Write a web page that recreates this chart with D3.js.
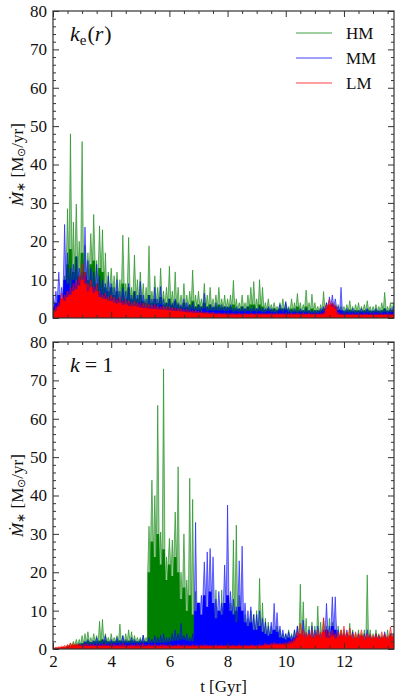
<!DOCTYPE html>
<html>
<head>
<meta charset="utf-8">
<script src="https://cdn.jsdelivr.net/npm/d3@7"></script>
<style>
  body { margin: 0; background: #fff; }
</style>
</head>
<body>
<div id="chart"></div>
<script>
(function(){

    var width = 399, height = 698;
    var left = 53, right = 394;
    var serif = "'Liberation Serif', 'Times New Roman', Times, serif";

    // time grid: one bin every 0.1 Gyr starting at 2.0
    var tStart = 2.0, tStep = 0.1;

    var seriesNames = ["HM", "MM", "LM"];
    var seriesColors = ["#008000", "#0000ff", "#ff0000"];
    var xTicks = [2, 4, 6, 8, 10, 12];
    var yTicks = [0, 10, 20, 30, 40, 50, 60, 70, 80];

    // ---- top panel, k_e(r): peak (hi) and dense level (lo) per bin
    var hmTopHi = [0,0,0,5,11,28.5,48,25,29.7,20,
        46,19,17,22,27,15,24,23,17,12,
        13,11,12,10,21.6,9,21,8,16.4,10,
        12,9,8,18.8,7,11,8,13,7,8,
        13.5,7,12,8,6,9,6,7,12.5,6,
        7,5,9,6,8,5,6,8,5,6,
        5,6,9.8,5,4,6,4,6,8,9.5,
        5,10,8,4,5,3.5,4,3,4,5,
        4,3,5,4,6.4,4,3.5,7.3,4,6.2,
        4,3,3.5,6.9,4,3,4,3,3.5,3,
        3,3.5,4.5,3,3.5,4,3,3.5,4.5,3,
        3,3.5,3,4,6.7,3,4,4];
    var hmTopLo = [0,0,0,3,6,14,18,12,16,11,
        17,12,10,14,15,9,13,12,8,7,
        8,6,7,5,9,5,8,5,7,5,
        6,4.5,4,6,4,5,4,5.5,3.5,4,
        5,3.5,4.5,3.5,3,4,3,3.5,4.5,3,
        3.5,3,4,3,3.5,2.8,3,3.5,2.8,3,
        2.8,3,3.5,2.5,2.5,3,2.5,3,3.5,3.5,
        2.5,3.5,3,2.2,2.5,2.2,2.5,2.2,2.5,2.5,
        2.5,2,2.5,2,3,2,2,3,2,2.5,
        2,2,2,2.5,2,1.8,2,1.8,2,1.8,
        1.8,2,2.2,1.8,2,2,1.8,2,2.2,1.8,
        1.8,2,1.8,2,2.5,1.8,2,2];
    var mmTopHi = [6,7,12,8,24.4,17,13,14,16,13,
        12,23.7,15,13,12,14,11,10,9,11,
        9,8,10,7,8,7,9,6,7,6,
        9.5,6,5,6,5,8,5,8.2,5,4,
        5,4,5,4,3.5,5,4,3.5,4,3,
        3.5,3,6.4,3,3.5,3,4,3,3.5,3,
        3,3.5,2.5,3,2.5,3,2.5,3,2.5,3,
        2.5,3,2.5,2.5,3,2.5,2.5,2,3.5,2.5,
        4.3,2.5,2,2.5,2,2.5,2,2.5,2,2,
        2,2,2.5,3,4,5.5,6,5,3,8,
        2,2.5,2,2.5,2,2,2.5,2,2.5,2,
        2,2.5,2,2,2.5,2,2.5,3];
    var mmTopLo = [3,4,6,5,10,9,8,10,9,10,
        8,11,8,7,8,6,6.5,5,6,4.5,
        5,4,5,3.5,4.5,3.5,4,3,3.5,3,
        4,3,2.8,3,2.8,3.5,2.5,3.5,2.5,2.2,
        2.5,2.2,2.5,2,2,2.5,2,2,2.2,1.8,
        2,1.8,2.5,1.8,2,1.8,2,1.8,2,1.8,
        1.8,2,1.5,1.8,1.5,1.8,1.5,1.8,1.5,1.8,
        1.5,1.8,1.5,1.5,1.8,1.5,1.5,1.3,2,1.5,
        2,1.5,1.3,1.5,1.3,1.5,1.3,1.5,1.3,1.3,
        1.3,1.3,1.5,1.8,2.5,3.2,3.5,3,2,2,
        1.3,1.5,1.3,1.5,1.3,1.3,1.5,1.3,1.5,1.3,
        1.3,1.5,1.3,1.3,1.5,1.3,1.5,1.6];
    var lmTopHi = [2.2,3,4,6.5,6,7,8,9,10,11,
        14.2,12,9,10,8.2,9,7,6,6.5,5.6,
        6,5.5,5,5.5,4.5,5,4.5,4,4.5,4,
        4,3.8,4,3.5,3.5,3.5,3.2,3,3.2,3,
        3,2.8,2.6,2.6,2.5,2.4,2.2,2.2,2,2,
        1.8,1.8,1.6,1.6,1.5,1.5,1.4,1.4,1.3,1.3,
        1.3,1.2,1.3,1.2,1.3,1.2,1.3,1.2,1.3,1.2,
        1.3,1.2,1.3,1.2,1.3,1.2,1.3,1.2,1.3,1.2,
        1.3,1.2,1.3,1.2,1.3,1.2,1.3,1.2,1.3,1.2,
        1.2,1.2,1.2,1.5,3.5,4.9,4,3.5,1.5,1.2,
        1.1,1.2,1.1,1.2,1.1,1.2,1.1,1.2,1.1,1.2,
        1.1,1.2,1.1,1.2,1.1,1.2,1.1,1.2];
    var lmTopLo = [1.5,2,3,5,4.5,5.5,6,7,7.5,8.5,
        10,9,7,8,6.5,7,5.5,5,5,4.5,
        4.5,4,3.8,4,3.4,3.6,3.2,3,3.2,2.9,
        2.8,2.6,2.6,2.5,2.4,2.4,2.3,2.2,2.2,2,
        2,1.9,1.8,1.8,1.7,1.6,1.5,1.5,1.4,1.4,
        1.3,1.3,1.2,1.2,1.1,1.1,1,1,1,1,
        0.9,0.9,0.9,0.9,0.9,0.9,0.9,0.9,0.9,0.9,
        0.9,0.9,0.9,0.9,0.9,0.9,0.9,0.9,0.9,0.9,
        0.9,0.9,0.9,0.9,0.9,0.9,0.9,0.9,0.9,0.9,
        0.9,0.9,0.9,1,2.5,3.5,3,2.5,1,0.8,
        0.8,0.8,0.8,0.8,0.8,0.8,0.8,0.8,0.8,0.8,
        0.8,0.8,0.8,0.8,0.8,0.8,0.8,0.8];

    // ---- bottom panel, k = 1
    var hmBotHi = [0,0,0,0,0.5,1,1.5,2,2.5,2.5,
        3.5,4,4.5,3,4,3.5,7.2,7.7,4,3,
        4,3,3.5,6.5,3.5,4,5,4.5,3.5,3,
        3,3.6,3,32,44,40,63.5,30.5,73,24,
        28.8,28.4,35.7,47.5,20,30,18,44.5,39,15,
        6,5,8,7,9,8,15.4,10,15.4,9,
        10,12,28.4,32.3,14,10,9,8,10,9,
        10,18.4,12,8,7,6,5,6,5,4,
        4,5,4,5,6,16.9,12.3,8,6,7,
        6,11.2,7,8,6,8,7,5,6,5,
        5,4,6.7,5,4,5,4,5,19.3,5,
        4,5,4,3.5,4,5,4,4];
    var hmBotLo = [0,0,0,0,0.2,0.5,0.8,1,1.2,1.3,
        1.5,1.8,2,1.8,2,2,2.2,2.5,2.2,2,
        2,2,2.2,2.2,2,2,2.2,2.2,2,2,
        2,2,2,20,28,24,30,22,26,18,
        22,19,24,20,13,16,10,14,9,4,
        3.5,3.5,4,3.5,4,3.5,5,4,5,4,
        4,5,9,10,6,4,4,4,4.5,4,
        4.5,6,4.5,3.5,3,3,3,3,3,2.8,
        2.5,2.5,2.5,2.5,2.5,3.5,3,2.5,2.5,2.5,
        2.5,3,2.5,2.5,2.5,2.5,2.5,2.5,2.5,2.5,
        2.5,2.5,2.5,2.5,2.5,2.5,2.5,2.5,3,2.5,
        2.5,2.5,2.5,2.5,2.5,2.5,2.5,2.5];
    var mmBotHi = [0,0,0,0,0,0,0,0.5,1,1.5,
        1.5,2,2.5,1.8,2.2,3,2,2.5,3.5,2,
        2.5,2,3,2.2,3.5,2.5,2,3,2.5,2,
        2.5,3.6,2,3,2.5,3.5,3,3.6,4,3,
        3,4,5,4,6.7,3.5,4,3,4,33,
        12,14,22.7,25.3,26.2,24,13,15,12,21.9,
        37.5,15,13,11,23,26.8,12,10,11,9,
        9,10,8,7,6,7,11.9,9.5,6,5,
        4,4.5,3.5,5,6,4,7.5,4,5,6,
        5,6,4,5,11.9,6,13.6,13.6,5,4,
        4,5,3.5,4.5,3,4,3.5,4,5,3.5,
        3,4,3.5,3,4.5,3,4,3.5];
    var mmBotLo = [0,0,0,0,0,0,0,0.2,0.5,0.8,
        1,1.2,1.2,1.2,1.3,1.3,1.3,1.4,1.4,1.4,
        1.4,1.5,1.5,1.5,1.5,1.5,1.5,1.5,1.5,1.5,
        1.5,1.6,1.6,1.6,1.6,1.6,1.6,1.6,1.6,1.6,
        1.8,2,2.2,2.2,2.5,2.5,2.2,2,2,10,
        12,9,14,11,15,12,8,10,9,12,
        14,10,9,7,11,10,7,6,7,5,
        5,6,4.5,4,3.5,4,5,4.5,3,2.8,
        2.5,3,2.5,3,3.5,2.5,3.5,2.5,3,3,
        3,3.5,2.5,3,5,3.5,6,5,3,2.5,
        2.2,2.5,2.2,2.5,2.2,2.2,2.5,2.2,2.5,2.2,
        2.2,2.5,2.2,2.2,2.5,2.2,2.5,2.2];
    var lmBotHi = [0.3,0.5,0.6,0.8,1,1.2,1.6,1.5,1.4,1.3,
        1.2,1.3,1.4,1.2,1.3,1.2,1.2,1.3,1.4,1.2,
        1.2,1.4,1.1,1.3,1.5,1.2,1.1,1.3,1.2,1.4,
        1.2,1.5,1.1,1.3,1.2,1.4,1.1,1.2,1.3,1.1,
        1.2,1,1.1,1.3,1,1.2,1.1,1,1.2,1.1,
        1,1.1,1.2,1,1.1,1,1.2,1,1.1,1,
        1.2,1,1.1,1,1.2,1,1.1,1,1.2,1.1,
        1,1.2,1.1,1.6,1.3,1.5,1.8,1.4,1.6,1.5,
        1.8,2,2.2,3,4.5,6.7,5,4.5,4,5,
        4,5,4.5,8.2,5,4.5,5,4,4.5,5,
        6,4.5,5.5,4,4.5,4,5,3.5,4,4,
        3.5,4,3.5,4.5,4,3.5,5.8,4];
    var lmBotLo = [0.1,0.3,0.4,0.5,0.6,0.7,0.9,1,1,0.9,
        0.8,0.8,0.8,0.8,0.8,0.8,0.8,0.8,0.8,0.8,
        0.7,0.7,0.7,0.7,0.7,0.7,0.7,0.7,0.7,0.7,
        0.7,0.7,0.7,0.7,0.7,0.7,0.7,0.7,0.7,0.7,
        0.7,0.7,0.7,0.7,0.7,0.7,0.7,0.7,0.7,0.7,
        0.7,0.7,0.7,0.7,0.7,0.7,0.7,0.7,0.7,0.7,
        0.7,0.7,0.7,0.7,0.7,0.7,0.7,0.7,0.7,0.7,
        0.8,0.8,0.8,1,1,1,1.2,1.2,1.2,1.2,
        1.2,1.3,1.5,2,3,4,3.5,3,3.5,3,
        3,3.5,3,4.5,3,3,3.5,2.8,3,3.5,
        3.5,3,3.5,2.8,3,2.8,3.5,2.5,3,2.8,
        2.8,3,2.6,3,3,2.6,3.5,3];

    var panels = [
        { id: "top", top: 11, bottom: 318, hi: [hmTopHi, mmTopHi, lmTopHi], lo: [hmTopLo, mmTopLo, lmTopLo] },
        { id: "bot", top: 342, bottom: 649, hi: [hmBotHi, mmBotHi, lmBotHi], lo: [hmBotLo, mmBotLo, lmBotLo] }
    ];

    var svg = d3.select("#chart")
        .append("svg")
        .attr("width", width)
        .attr("height", height);

    var x = d3.scaleLinear().domain([2, 13.72]).range([left, right]);

    var timeOf = function(i) { return tStart + i * tStep; };

    var addText = function(sel) {
        return sel.append("text").style("font-family", serif).style("fill", "#111");
    };

    var drawPanel = function(p, idx) {
        var y = d3.scaleLinear().domain([0, 80]).range([p.bottom, p.top]);
        var g = svg.append("g");

        svg.append("clipPath").attr("id", "clip-" + p.id)
            .append("rect")
            .attr("x", left).attr("y", p.top)
            .attr("width", right - left).attr("height", p.bottom - p.top);

        var area = d3.area()
            .x(function(d) { return x(d[0]); })
            .y0(y(0))
            .y1(function(d) { return y(d[1]); });
        var line = d3.line()
            .x(function(d) { return x(d[0]); })
            .y(function(d) { return y(d[1]); });

        var dg = g.append("g").attr("clip-path", "url(#clip-" + p.id + ")");

        p.hi.forEach(function(hi, s) {
            var lo = p.lo[s];
            // sawtooth: dense level -> peak -> dense level for each bin
            var saw = [], base = [];
            hi.forEach(function(v, i) {
                var t = timeOf(i);
                saw.push([t - 0.045, lo[i]]);
                saw.push([t, Math.max(v, lo[i])]);
                saw.push([t + 0.045, lo[i]]);
                base.push([t - 0.045, lo[i]]);
                base.push([t + 0.045, lo[i]]);
            });
            dg.append("path")
                .attr("d", area(saw))
                .attr("fill", seriesColors[s])
                .attr("fill-opacity", 0.4);
            dg.append("path")
                .attr("d", area(base))
                .attr("fill", seriesColors[s]);
            dg.append("path")
                .attr("d", line(saw))
                .attr("fill", "none")
                .attr("stroke", seriesColors[s])
                .attr("stroke-opacity", 0.55)
                .attr("stroke-width", 1);
        });

        // axes, ticks pointing inward on all four sides
        var minorY = d3.range(0, 81, 2).filter(function(v) { return v % 10 !== 0; });
        var minorX = d3.range(2, 13.75, 0.5).filter(function(v) { return v % 2 !== 0; });

        var axes = [
            { ax: d3.axisLeft(y).tickValues(yTicks), tr: [left, 0], lab: true, size: 6 },
            { ax: d3.axisLeft(y).tickValues(minorY), tr: [left, 0], lab: false, size: 3 },
            { ax: d3.axisRight(y).tickValues(yTicks), tr: [right, 0], lab: false, size: 6 },
            { ax: d3.axisRight(y).tickValues(minorY), tr: [right, 0], lab: false, size: 3 },
            { ax: d3.axisTop(x).tickValues(xTicks), tr: [0, p.top], lab: false, size: 6 },
            { ax: d3.axisTop(x).tickValues(minorX), tr: [0, p.top], lab: false, size: 3 },
            { ax: d3.axisBottom(x).tickValues(xTicks), tr: [0, p.bottom], lab: idx === 1, size: 6 },
            { ax: d3.axisBottom(x).tickValues(minorX), tr: [0, p.bottom], lab: false, size: 3 }
        ];
        axes.forEach(function(a) {
            a.ax.tickSize(-a.size).tickPadding(6);
            if (!a.lab) a.ax.tickFormat("");
            var ag = g.append("g")
                .attr("transform", "translate(" + a.tr[0] + "," + a.tr[1] + ")")
                .call(a.ax);
            ag.select(".domain").remove();
            ag.selectAll("line").attr("stroke", "#333").attr("stroke-width", 1);
            ag.selectAll("text")
                .style("font-family", serif)
                .style("font-size", "17px")
                .style("fill", "#111");
        });

        g.append("rect")
            .attr("x", left).attr("y", p.top)
            .attr("width", right - left).attr("height", p.bottom - p.top)
            .attr("fill", "none")
            .attr("stroke", "#333")
            .attr("stroke-width", 1.2);

        // y label
        var cy = (p.top + p.bottom) / 2;
        var yl = addText(g)
            .attr("transform", "translate(17," + cy + ") rotate(-90)")
            .attr("text-anchor", "middle")
            .attr("dominant-baseline", "central")
            .style("font-size", "17px");
        yl.append("tspan").style("font-style", "italic").text("Ṁ");
        yl.append("tspan").attr("dy", 4).style("font-size", "12px").text("∗");
        yl.append("tspan").attr("dy", -4).text(" [M");
        yl.append("tspan").attr("dy", 4).style("font-size", "11px").text("⊙");
        yl.append("tspan").attr("dy", -4).text("/yr]");

        return y;
    };

    panels.forEach(drawPanel);

    // panel labels
    var l1 = addText(svg).attr("x", 70).attr("y", 41).style("font-size", "22px");
    l1.append("tspan").style("font-style", "italic").text("k");
    l1.append("tspan").attr("dy", 4).style("font-size", "15px").text("e");
    l1.append("tspan").attr("dy", -4).attr("dx", 1).text("(");
    l1.append("tspan").style("font-style", "italic").text("r");
    l1.append("tspan").attr("dx", 1).text(")");

    var l2 = addText(svg).attr("x", 70).attr("y", 372).style("font-size", "22px");
    l2.append("tspan").style("font-style", "italic").text("k");
    l2.append("tspan").attr("dx", 5).text("=");
    l2.append("tspan").attr("dx", 5).text("1");

    // legend
    var legendY = [33, 58, 83];
    seriesNames.forEach(function(name, i) {
        svg.append("line")
            .attr("x1", 296).attr("x2", 332)
            .attr("y1", legendY[i]).attr("y2", legendY[i])
            .attr("stroke", seriesColors[i])
            .attr("stroke-opacity", 0.5)
            .attr("stroke-width", 1.5);
        addText(svg)
            .attr("x", 346).attr("y", legendY[i])
            .attr("dominant-baseline", "central")
            .style("font-size", "17px")
            .text(name);
    });

    // x label
    addText(svg)
        .attr("x", (left + right) / 2).attr("y", 692)
        .attr("text-anchor", "middle")
        .style("font-size", "17px")
        .text("t [Gyr]");

})();
</script>
</body>
</html>
